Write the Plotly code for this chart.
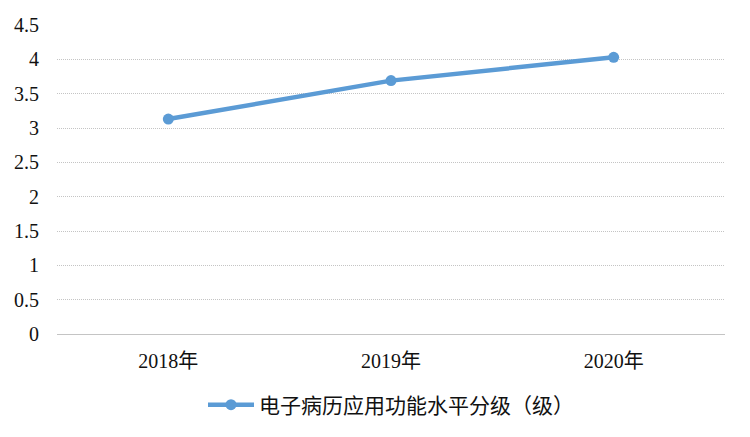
import plotly.graph_objects as go

years = ["2018年", "2019年", "2020年"]
levels = [3.13, 3.69, 4.03]
series_name = "电子病历应用功能水平分级（级）"

# serif latin font, CJK falls back to Noto
FONT = "'Times New Roman', 'Liberation Serif', 'Noto Sans CJK SC', serif"

fig = go.Figure()
fig.add_trace(go.Scatter(
    x=years, y=levels, name=series_name,
    mode="lines+markers",
    line=dict(color="#5B9BD5", width=4.5),
    marker=dict(color="#5B9BD5", size=11),
    showlegend=True,
))

# page body has a small margin, so the figure is shrunk to fit
fig.update_layout(
    width=742, height=429,
    margin=dict(l=49, r=25, t=17, b=98),
    paper_bgcolor="white", plot_bgcolor="white",
    font=dict(family=FONT, size=20, color="#111"),
    legend=dict(orientation="h", x=0.5, xanchor="center", y=-0.23, yanchor="middle",
                font=dict(size=21), itemwidth=46),
)
fig.update_xaxes(type="category", range=[-0.5, 2.5], showgrid=False, automargin=False,
                 showline=False, ticks="", ticklabelstandoff=13)
fig.update_yaxes(range=[0, 4.5], dtick=0.5, showgrid=True, gridcolor="#c4c4c4",
                 griddash="1px,1px", gridwidth=1.3, zeroline=True, zerolinecolor="#c4c4c4",
                 zerolinewidth=1.3, showline=False, ticks="", ticklabelstandoff=17,
                 tickformat="~g", automargin=False)

fig.write_html("out.html")
